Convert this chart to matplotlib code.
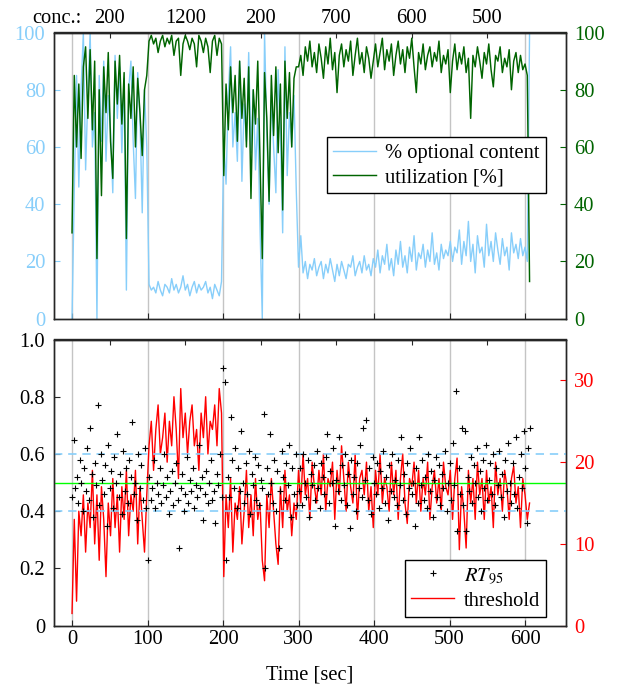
import numpy as np
import matplotlib
matplotlib.use('Agg')
import matplotlib.pyplot as plt
from matplotlib.lines import Line2D
from matplotlib.ticker import FixedLocator

plt.rcParams['font.family'] = ['Liberation Serif', 'DejaVu Serif']
plt.rcParams['mathtext.fontset'] = 'stix'
plt.rcParams['font.size'] = 14.8

# ---------------- data ----------------
# phases (seconds) and client concurrency in each phase
phase_edges = [0, 100, 200, 300, 400, 500, 600]
concurrency = [200, 1200, 200, 700, 600, 500]

# sample times of the line series (every 3 s) and of RT95 (every 2 s)
t_line = np.arange(0, 607, 3)
t_rt = np.arange(0, 607, 2)

# % optional content
optional_a = [0, 45, 85, 46, 80, 100, 52, 78, 100, 60, 72, 0, 85, 62, 90, 55, 78,
              66, 44, 92, 70, 88, 58, 84, 10, 80, 90, 62, 42, 86, 70, 37, 80, 60]
optional_b = [12, 10, 11, 9, 13, 10, 8, 12, 11, 9, 14, 10, 12, 9, 11, 15, 10,
              12, 8, 11, 13, 9, 12, 10, 11, 13, 9, 11, 7, 12, 10, 8, 13]
optional_c = [62, 47, 78, 95, 60, 72, 55, 90, 48, 75, 62, 93, 58, 80, 52, 70, 32,
              0, 100, 65, 40, 78, 60, 44, 87, 66, 30, 95, 50, 72, 60, 78, 45]
optional_d = [18, 29, 16, 20, 14, 19, 17, 21, 15, 18,
              20, 14, 19, 16, 21, 17, 13, 19, 15, 20,
              17, 14, 19, 18, 22, 15, 18, 20, 16, 22,
              17, 19, 15, 21, 18, 24, 16, 22, 19, 26,
              17, 21, 15, 24, 19, 27, 18, 22, 16, 25,
              20, 29, 17, 23, 21, 26, 18, 24, 20, 30,
              19, 23, 17, 26, 21, 24, 22, 27, 20, 25,
              23, 31, 19, 27, 22, 34, 20, 26, 16, 29,
              23, 25, 18, 33, 22, 27, 20, 30, 24, 19,
              28, 22, 25, 17, 30, 23, 26, 21, 28, 22,
              25, 20, 100]

# utilization [%]
util_a = [30, 85, 60, 82, 56, 88, 95, 70, 94, 66, 90, 21, 80, 43, 88, 72, 93,
          62, 49, 90, 75, 92, 68, 86, 28, 82, 70, 88, 60, 84, 72, 57, 80, 85]
util_b = [97, 99, 96, 98, 93, 97, 99, 95, 98, 96, 99, 92, 97, 98, 85, 96, 99,
          97, 94, 98, 96, 88, 99, 97, 93, 98, 95, 86, 97, 99, 92, 98, 96]
util_c = [50, 82, 66, 88, 72, 85, 62, 90, 70, 84, 60, 88, 42, 80, 68, 90, 55,
          21, 86, 70, 41, 85, 64, 88, 58, 82, 38, 90, 70, 86, 60, 84, 88]
util_d = [88, 92, 85, 95, 90, 97, 88, 93, 86, 96,
          91, 84, 95, 89, 98, 87, 93, 79, 92, 96,
          88, 94, 90, 97, 85, 92, 98, 89, 93, 86,
          95, 91, 84, 90, 96, 88, 93, 98, 87, 94,
          90, 96, 85, 92, 97, 89, 94, 86, 95, 91,
          98, 88, 79, 93, 89, 96, 87, 92, 95, 88,
          93, 90, 97, 86, 92, 89, 94, 79, 90, 96,
          87, 93, 89, 95, 86, 91, 70, 92, 88, 95,
          90, 84, 93, 89, 96, 87, 81, 92, 90, 95,
          86, 91, 88, 94, 80, 90, 93, 86, 92, 87,
          89, 85, 13]

# threshold (right axis, bottom panel)
thr_a = [1.5, 13, 3, 14, 11, 16, 9, 15, 12, 19, 10, 16, 8, 17, 13, 6, 15,
         11, 18, 12, 16, 9, 17, 13, 19, 11, 16, 14, 19, 10, 17, 13, 9, 16]
thr_b = [22, 25, 19, 24, 27, 21, 23, 26, 20, 25, 22, 28, 24, 18, 29, 23, 26,
         21, 25, 27, 22, 24, 19, 26, 23, 28, 21, 25, 24, 27, 22, 29, 26]
thr_c = [6, 16, 12, 18, 9, 15, 13, 17, 10, 14, 19, 12, 16, 11, 18, 13, 15,
         8, 5.5, 16, 12, 18, 14, 10, 7.5, 17, 12, 19, 14, 16, 11, 15, 13]
thr_d = [19, 15, 21, 16, 18, 13, 20, 17, 15, 19,
         16, 21, 14, 18, 17, 20, 13, 19, 16, 22,
         18, 14, 20, 17, 15, 21, 13, 18, 19, 16,
         20, 14, 17, 12, 19, 16, 21, 15, 18, 17,
         14, 20, 16, 19, 13, 18, 21, 15, 12.5, 18,
         17, 20, 15, 19, 14, 18, 16, 20, 13, 17,
         19, 15, 18, 14, 20, 17, 16, 19, 13, 18,
         20.5, 9.3, 17, 14, 9.5, 19, 15, 18, 13, 20,
         16, 18, 13, 19, 15, 17, 12, 20, 16, 18,
         14, 19, 17, 13, 18, 19.5, 15, 17, 12, 18,
         16, 13, 15]

# RT95 (left axis, bottom panel)
rt_a = [0.45, 0.65, 0.48, 0.52, 0.43, 0.58, 0.50, 0.40, 0.55, 0.47,
        0.62, 0.44, 0.69, 0.53, 0.38, 0.57, 0.49, 0.77, 0.42, 0.60,
        0.51, 0.46, 0.56, 0.35, 0.63, 0.48, 0.54, 0.41, 0.59, 0.50,
        0.67, 0.45, 0.53, 0.39, 0.61, 0.47, 0.55, 0.43, 0.58, 0.52,
        0.71, 0.46, 0.50, 0.37, 0.60, 0.48, 0.56, 0.44, 0.62, 0.41]
rt_b = [0.23, 0.52, 0.44, 0.48, 0.58, 0.41, 0.50, 0.46, 0.55, 0.43,
        0.49, 0.60, 0.45, 0.52, 0.39, 0.47, 0.54, 0.42, 0.50, 0.57,
        0.44, 0.27, 0.48, 0.53, 0.40, 0.46, 0.59, 0.43, 0.51, 0.47,
        0.55, 0.41, 0.49, 0.45, 0.63, 0.48, 0.52, 0.37, 0.46, 0.54,
        0.43, 0.50, 0.58, 0.44, 0.47, 0.36, 0.53, 0.49, 0.60, 0.45]
rt_c = [0.90, 0.85, 0.23, 0.52, 0.45, 0.73, 0.58, 0.48, 0.62, 0.41,
        0.55, 0.47, 0.68, 0.50, 0.43, 0.57, 0.46, 0.61, 0.39, 0.53,
        0.49, 0.59, 0.44, 0.56, 0.42, 0.51, 0.48, 0.74, 0.20, 0.55,
        0.46, 0.67, 0.50, 0.43, 0.58, 0.40, 0.54, 0.27, 0.47, 0.61,
        0.52, 0.44, 0.57, 0.49, 0.63, 0.38, 0.55, 0.46, 0.60, 0.42]
rt_d = [0.47, 0.55, 0.42, 0.60, 0.50, 0.45, 0.58, 0.38, 0.53, 0.49,
        0.56, 0.44, 0.61, 0.48, 0.41, 0.57, 0.52, 0.46, 0.59, 0.67,
        0.43, 0.54, 0.50, 0.62, 0.35, 0.51, 0.47, 0.66, 0.44, 0.56,
        0.49, 0.60, 0.42, 0.53, 0.34, 0.58, 0.46, 0.52, 0.40, 0.57,
        0.48, 0.63, 0.45, 0.69, 0.51, 0.72, 0.44, 0.55, 0.39, 0.59,
        0.50, 0.46, 0.57, 0.41, 0.54, 0.48, 0.61, 0.43, 0.52, 0.37,
        0.56, 0.47, 0.60, 0.45, 0.51, 0.42, 0.58, 0.49, 0.66, 0.44,
        0.53, 0.39, 0.57, 0.48, 0.62, 0.46, 0.50, 0.35, 0.55, 0.43,
        0.66, 0.49, 0.58, 0.44, 0.52, 0.41, 0.60, 0.47, 0.54, 0.38,
        0.51, 0.59, 0.45, 0.56, 0.42, 0.53, 0.48, 0.61, 0.40, 0.50,
        0.57, 0.44, 0.64, 0.49, 0.82, 0.33, 0.55, 0.46, 0.69, 0.42,
        0.68, 0.33, 0.52, 0.47, 0.59, 0.43, 0.56, 0.50, 0.62, 0.45,
        0.54, 0.40, 0.58, 0.48, 0.63, 0.44, 0.51, 0.57, 0.46, 0.60,
        0.42, 0.55, 0.49, 0.61, 0.45, 0.53, 0.38, 0.58, 0.47, 0.64,
        0.50, 0.43, 0.57, 0.46, 0.66, 0.41, 0.52, 0.60, 0.48, 0.68,
        0.55, 0.36, 0.62, 0.69]

rt_target = 0.5
rt_band = [0.4, 0.6]

optional = np.array(optional_a + optional_b + optional_c + optional_d, dtype=float)
util = np.array(util_a + util_b + util_c + util_d, dtype=float)
threshold = np.array(thr_a + thr_b + thr_c + thr_d, dtype=float)
rt95 = np.array(rt_a + rt_b + rt_c + rt_d, dtype=float)

# ---------------- style ----------------
C_OPT = '#87CEFA'
C_UTIL = '#006400'
C_THR = '#FF0000'
C_GRID = '#c4c4c4'
SPINE = '#262626'

W, H = 619, 686
fig = plt.figure(figsize=(W / 100, H / 100), dpi=100)
left = 53.6 / W
width = 511.9 / W
height = 286.2 / H
ax1 = fig.add_axes([left, (H - 318.7) / H, width, height])
ax2 = fig.add_axes([left, (H - 625.7) / H, width, height])

xlim = (-24.4, 653.6)
major_x = phase_edges
mid_x = [(a + b) / 2 for a, b in zip(phase_edges[:-1], phase_edges[1:])]

# ---------- top panel ----------
l_opt, = ax1.plot(t_line, optional, color=C_OPT, lw=1.0, label='% optional content')
ax1b = ax1.twinx()
l_util, = ax1b.plot(t_line, util, color=C_UTIL, lw=1.05, label='utilization [%]')

ax1.set_xlim(*xlim)
ax1.set_ylim(0, 100)
ax1b.set_ylim(0, 100)
ax1.set_xticks(major_x)
ax1.tick_params(axis='x', which='both', direction='in', length=4, labelbottom=False,
                color=SPINE)
ax1.grid(axis='x', color=C_GRID, lw=1.0)
ax1.set_yticks(range(0, 101, 20))
ax1.tick_params(axis='y', direction='in', length=4, colors=C_OPT, pad=6)
ax1b.set_yticks(range(0, 101, 20))
ax1b.tick_params(axis='y', direction='in', length=4, colors=C_UTIL, pad=6)

sec1 = ax1.secondary_xaxis('top')
sec1.set_xticks(mid_x)
sec1.set_xticklabels([str(c) for c in concurrency])
sec1.xaxis.set_minor_locator(FixedLocator(major_x))
sec1.tick_params(axis='x', which='both', direction='in', length=4, pad=3, color=SPINE)
ax1.annotate('conc.:', xy=(0.055, 1.0), xycoords='axes fraction', xytext=(0, 3),
             textcoords='offset points', ha='right', va='bottom')

leg1 = ax1b.legend(handles=[l_opt, l_util], loc='upper right',
                   bbox_to_anchor=(0.962, 0.634), borderaxespad=0, fancybox=False,
                   edgecolor='black', framealpha=1, handlelength=2.1,
                   handletextpad=0.45, borderpad=0.3, labelspacing=0.25)
leg1.get_frame().set_linewidth(1.0)

# ---------- bottom panel ----------
ax2.set_xlim(*xlim)
ax2.set_ylim(0, 1.0)
ax2r = ax2.twinx()
ax2r.set_ylim(0, 35)
ax2r.set_xlim(*xlim)

l_thr, = ax2r.plot(t_line, threshold, color=C_THR, lw=1.0, label='threshold')

ytr = ax2.get_yaxis_transform()
for yv in rt_band:
    ax2r.add_line(Line2D([0, 1], [yv, yv], transform=ytr, color=C_OPT, lw=1.2,
                         dashes=(5, 3.5)))
ax2r.add_line(Line2D([0, 1], [rt_target, rt_target], transform=ytr, color='#00ff00',
                     lw=1.0))
l_rt, = ax2r.plot(t_rt, rt95, linestyle='none', marker='+', color='black', ms=5,
                  mew=0.8, transform=ax2.transData, label='$RT_{95}$')
ax2r.set_ylim(0, 35)

ax2.set_xticks(major_x)
ax2.tick_params(axis='x', which='both', direction='in', length=4, pad=3, color=SPINE)
ax2.grid(axis='x', color=C_GRID, lw=1.0)
ax2.set_yticks([0, 0.2, 0.4, 0.6, 0.8, 1.0])
ax2.set_yticklabels(['0', '0.2', '0.4', '0.6', '0.8', '1.0'])
ax2.tick_params(axis='y', direction='in', length=4, pad=6, color=SPINE)
ax2r.set_yticks([0, 10, 20, 30])
ax2r.tick_params(axis='y', direction='in', length=4, colors=C_THR, pad=6)
ax2.set_xlabel('Time [sec]', labelpad=12)

sec2 = ax2.secondary_xaxis('top')
sec2.set_xticks(mid_x)
sec2.set_xticklabels([])
sec2.tick_params(axis='x', direction='in', length=4, color=SPINE)

leg2 = ax2r.legend(handles=[l_rt, l_thr], loc='lower right',
                   bbox_to_anchor=(0.962, 0.031), borderaxespad=0, fancybox=False,
                   edgecolor='black', framealpha=1, handlelength=2.1, numpoints=1,
                   handletextpad=0.45, borderpad=0.3, labelspacing=0.25)
leg2.get_frame().set_linewidth(1.0)

for a in (ax1, ax1b, ax2, ax2r, sec1, sec2):
    for s in a.spines.values():
        s.set_color(SPINE)
        s.set_linewidth(1.0)

fig.savefig('out.png', dpi=100)
